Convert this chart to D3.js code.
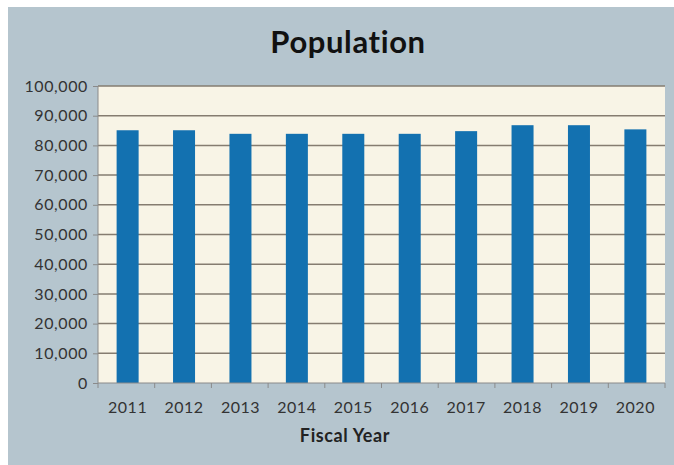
<!DOCTYPE html>
<html lang="en">
<head>
    <meta charset="UTF-8">
    <title>Population</title>
    <style>
        body { margin: 0; background: #ffffff; }
        svg { display: block; }
        .tick text { font-family: 'Lato', sans-serif; font-size: 16px; fill: #333; letter-spacing: 0.6px; }
    </style>
</head>
<body>
<div id="chart"></div>

<script src="https://d3js.org/d3.v7.min.js"></script>
<script>
    // data
    const years = ["2011", "2012", "2013", "2014", "2015", "2016", "2017", "2018", "2019", "2020"];
    const population = [85100, 85100, 83900, 83900, 83900, 83900, 84800, 86800, 86800, 85400];
    const yTicks = [0, 10000, 20000, 30000, 40000, 50000, 60000, 70000, 80000, 90000, 100000];

    const width = 674, height = 465;
    const plot = { left: 98, right: 665, top: 86, bottom: 383 };

    const svg = d3.select("#chart").append("svg")
        .attr("width", width)
        .attr("height", height);

    // grey-blue panel
    svg.append("rect")
        .attr("x", 8).attr("y", 7)
        .attr("width", width - 8).attr("height", height - 7)
        .attr("fill", "#b5c5ce");

    svg.append("rect")
        .attr("x", plot.left).attr("y", plot.top)
        .attr("width", plot.right - plot.left).attr("height", plot.bottom - plot.top)
        .attr("fill", "#f8f4e6");

    const x = d3.scaleBand()
        .domain(years)
        .range([plot.left, plot.right])
        .paddingInner(0.61)
        .paddingOuter(0.33);

    const y = d3.scaleLinear()
        .domain([0, 100000])
        .range([plot.bottom, plot.top]);

    // gridlines
    svg.append("g")
        .selectAll("line")
        .data(yTicks.filter(d => d > 0))
        .join("line")
        .attr("x1", plot.left).attr("x2", plot.right)
        .attr("y1", d => y(d)).attr("y2", d => y(d))
        .attr("stroke", "#857c70")
        .attr("stroke-width", 1.5);

    // bars
    svg.append("g")
        .selectAll("rect")
        .data(years)
        .join("rect")
        .attr("x", d => x(d))
        .attr("y", (d, i) => y(population[i]))
        .attr("width", x.bandwidth())
        .attr("height", (d, i) => y(0) - y(population[i]))
        .attr("fill", "#1371b0");

    // y axis
    const yAxis = svg.append("g")
        .attr("transform", `translate(${plot.left},0)`)
        .call(d3.axisLeft(y).tickValues(yTicks).tickFormat(d3.format(",")).tickSize(5).tickPadding(5));
    yAxis.selectAll("line, path").attr("stroke", "#8a8a8a");
    yAxis.select(".domain").attr("d", `M0,${plot.top}V${plot.bottom}`);

    // x axis, ticks between categories
    const xAxis = svg.append("g")
        .attr("transform", `translate(0,${plot.bottom})`);
    xAxis.append("line")
        .attr("x1", plot.left).attr("x2", plot.right)
        .attr("stroke", "#8a8a8a");
    xAxis.selectAll(".sep")
        .data(d3.range(years.length + 1))
        .join("line")
        .attr("x1", i => plot.left + i * (plot.right - plot.left) / years.length)
        .attr("x2", i => plot.left + i * (plot.right - plot.left) / years.length)
        .attr("y1", 0).attr("y2", 5)
        .attr("stroke", "#8a8a8a");
    xAxis.selectAll(".lbl")
        .data(years)
        .join("text")
        .attr("x", d => x(d) + x.bandwidth() / 2)
        .attr("y", 30)
        .attr("text-anchor", "middle")
        .attr("font-family", "Lato, sans-serif")
        .attr("font-size", 16)
        .attr("letter-spacing", 0.5)
        .attr("fill", "#333")
        .text(d => d);

    // titles
    svg.append("text")
        .attr("x", 348).attr("y", 53)
        .attr("text-anchor", "middle")
        .attr("font-family", "Lato, sans-serif")
        .attr("font-weight", "bold")
        .attr("font-size", 31)
        .attr("letter-spacing", 0.6)
        .attr("fill", "#111")
        .text("Population");

    svg.append("text")
        .attr("x", 345).attr("y", 442)
        .attr("text-anchor", "middle")
        .attr("font-family", "Lato, sans-serif")
        .attr("font-weight", "bold")
        .attr("font-size", 18)
        .attr("letter-spacing", 0.6)
        .attr("fill", "#222")
        .text("Fiscal Year");
</script>
</body>
</html>
